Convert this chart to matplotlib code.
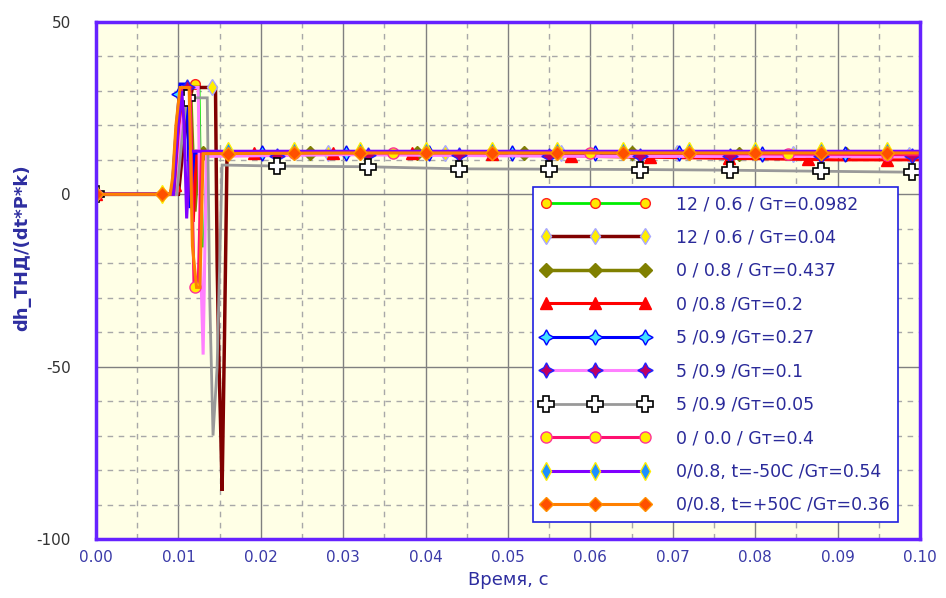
import numpy as np
import matplotlib
matplotlib.use("Agg")
import matplotlib.pyplot as plt
from matplotlib.ticker import MultipleLocator, FormatStrFormatter

plt.rcParams['font.family'] = ['DejaVu Sans']
plt.rcParams['axes.unicode_minus'] = False

# ---- series data: breakpoint times (s) and values ----
labels = [
    "12 / 0.6 / Gт=0.0982",
    "12 / 0.6 / Gт=0.04",
    "0 / 0.8 / Gт=0.437",
    "0 /0.8 /Gт=0.2",
    "5 /0.9 /Gт=0.27",
    "5 /0.9 /Gт=0.1",
    "5 /0.9 /Gт=0.05",
    "0 / 0.0 / Gт=0.4",
    "0/0.8, t=-50C /Gт=0.54",
    "0/0.8, t=+50C /Gт=0.36",
]

t1 = [0, 0.0095, 0.0100, 0.0105, 0.0112, 0.0125, 0.0128, 0.0131, 0.0135, 0.03, 0.06, 0.1]
y1 = [0, 0, 15, 28, 32, 32, -15, -15, 12, 12, 12, 11.5]

t2 = [0, 0.0100, 0.0105, 0.0112, 0.0117, 0.0145, 0.0147, 0.0149, 0.0151, 0.0153, 0.0156, 0.0159, 0.03, 0.06, 0.1]
y2 = [0, 0, 12, 25, 31, 31, -20, -47, -65, -86, -40, 11.6, 12, 12, 11.5]

t3 = [0, 0.0095, 0.0102, 0.0108, 0.0115, 0.0120, 0.0125, 0.03, 0.06, 0.1]
y3 = [0, 0, 20, 29, 29, -5, 12, 12, 12, 11.5]

t4 = [0, 0.0095, 0.0102, 0.0108, 0.0114, 0.0118, 0.0122, 0.02, 0.05, 0.06, 0.075, 0.09, 0.1]
y4 = [0, 0, 18, 29, 29, -8, 12.5, 12, 11.8, 11, 10.5, 10, 10]

t5 = [0, 0.0092, 0.0097, 0.0102, 0.0110, 0.0114, 0.0119, 0.03, 0.06, 0.1]
y5 = [0, 0, 18, 32, 32, -4, 12, 12, 12, 11.5]

t6 = [0, 0.0098, 0.0104, 0.0110, 0.0124, 0.0127, 0.0130, 0.0134, 0.03, 0.06, 0.1]
y6 = [0, 0, 20, 31, 31, -20, -46.5, 11, 11.5, 11, 11]

t7 = [0, 0.0098, 0.0104, 0.0110, 0.0135, 0.0138, 0.0142, 0.0147, 0.0153,
      0.022, 0.033, 0.044, 0.055, 0.066, 0.077, 0.088, 0.1]
y7 = [0, 0, 15, 28, 28, -30, -70, -50, 8.5,
      8.2, 8.0, 7.4, 7.3, 7.2, 7.0, 6.7, 6.4]

t8 = [0, 0.0092, 0.0098, 0.0104, 0.0114, 0.0119, 0.0124, 0.0128, 0.03, 0.06, 0.1]
y8 = [0, 0, 15, 31, 31, -27, -27, 12, 12, 12, 11.5]

t9 = [0, 0.0094, 0.0099, 0.0104, 0.0107, 0.0110, 0.0114, 0.03, 0.06, 0.1]
y9 = [0, 0, 18, 30, 20, -7, 12.5, 12.5, 12.5, 12.5]

t10 = [0, 0.0090, 0.0093, 0.0097, 0.0102, 0.0113, 0.0117, 0.0122, 0.0126, 0.0130, 0.03, 0.06, 0.1]
y10 = [0, 0, 5, 20, 31, 31, -15, -27, -27, 11.8, 12, 12, 12]

times = [t1, t2, t3, t4, t5, t6, t7, t8, t9, t10]
values = [y1, y2, y3, y4, y5, y6, y7, y8, y9, y10]

# marker spacing along each curve (s)
marker_step = [0.012, 0.0141, 0.013, 0.0096, 0.0101, 0.011, 0.011, 0.012, 0.008, 0.008]

star4 = (4, 1, 0)
styles = [
    dict(color="#00EE00", marker="o", mfc="#FFE800", mec="#FF2020", ms=7, lw=2.0),
    dict(color="#800000", marker="d", mfc="#FFEE00", mec="#A8A8FF", ms=8, lw=2.5),
    dict(color="#808000", marker="D", mfc="#808000", mec="#808000", ms=7, lw=2.5),
    dict(color="#FF0000", marker="^", mfc="#FF0000", mec="#FF0000", ms=8, lw=2.2),
    dict(color="#0000FF", marker=star4, mfc="#40E0FF", mec="#0000FF", ms=11, lw=2.2),
    dict(color="#FF80FF", marker=star4, mfc="#C00060", mec="#2020FF", ms=11, lw=2.2),
    dict(color="#999999", marker="P", mfc="#FFFFFF", mec="#000000", ms=11, lw=2.0, mew=1.2),
    dict(color="#FF1070", marker="o", mfc="#FFEE00", mec="#FF3399", ms=8, lw=2.2),
    dict(color="#8000FF", marker="d", mfc="#1E90FF", mec="#FFEE00", ms=9, lw=2.2),
    dict(color="#FF8000", marker="D", mfc="#FF5000", mec="#FF9000", ms=7, lw=2.2),
]

fig = plt.figure(figsize=(9.46, 5.98), dpi=100)
fig.patch.set_facecolor("white")
ax = fig.add_axes([0.1015, 0.0987, 0.8710, 0.8645])
ax.set_facecolor("#FFFFE6")

for t, y, step, st, lab in zip(times, values, marker_step, styles, labels):
    t = np.asarray(t, float)
    y = np.asarray(y, float)
    mt = np.arange(0.0, 0.1 + 1e-9, step)
    tt = np.union1d(t, mt)
    yy = np.interp(tt, t, y)
    idx = [int(np.argmin(np.abs(tt - m))) for m in mt]
    ax.plot(tt, yy, markevery=idx, label=lab, solid_joinstyle="miter", **st)

ax.set_xlim(0, 0.1)
ax.set_ylim(-100, 50)

ax.xaxis.set_major_locator(MultipleLocator(0.01))
ax.xaxis.set_minor_locator(MultipleLocator(0.005))
ax.yaxis.set_major_locator(MultipleLocator(50))
ax.yaxis.set_minor_locator(MultipleLocator(10))
ax.xaxis.set_major_formatter(FormatStrFormatter("%.2f"))

ax.grid(which="major", color="#808080", lw=1.0, ls="-")
ax.grid(which="minor", color="#A8A8A8", lw=1.0, ls=(0, (4, 4)))
ax.set_axisbelow(True)

ax.tick_params(which="both", length=0)
ax.tick_params(axis="x", colors="#3A3AA8", labelsize=11, pad=8)
ax.tick_params(axis="y", colors="#333333", labelsize=11, pad=18)

for sp in ax.spines.values():
    sp.set_color("#6622FF")
    sp.set_linewidth(2.5)

ax.set_xlabel("Время, с", color="#2E2EA0", fontsize=13, labelpad=4)
ax.set_ylabel("dh_ТНД/(dt*P*k)", color="#2E2EA0", fontsize=13,
              fontweight="bold", labelpad=6)
ax.yaxis.set_label_coords(-0.078, 0.563)

leg = ax.legend(loc="lower left", bbox_to_anchor=(0.530, 0.033), numpoints=3,
                handlelength=6.3, fontsize=12.5, labelspacing=0.89,
                handletextpad=1.5, borderpad=0.45, borderaxespad=0,
                frameon=True, fancybox=False, framealpha=1.0)
leg.get_frame().set_edgecolor("#2020E0")
leg.get_frame().set_linewidth(1.2)
for txt in leg.get_texts():
    txt.set_color("#2A2A9A")

fig.savefig("out.png", dpi=100)
